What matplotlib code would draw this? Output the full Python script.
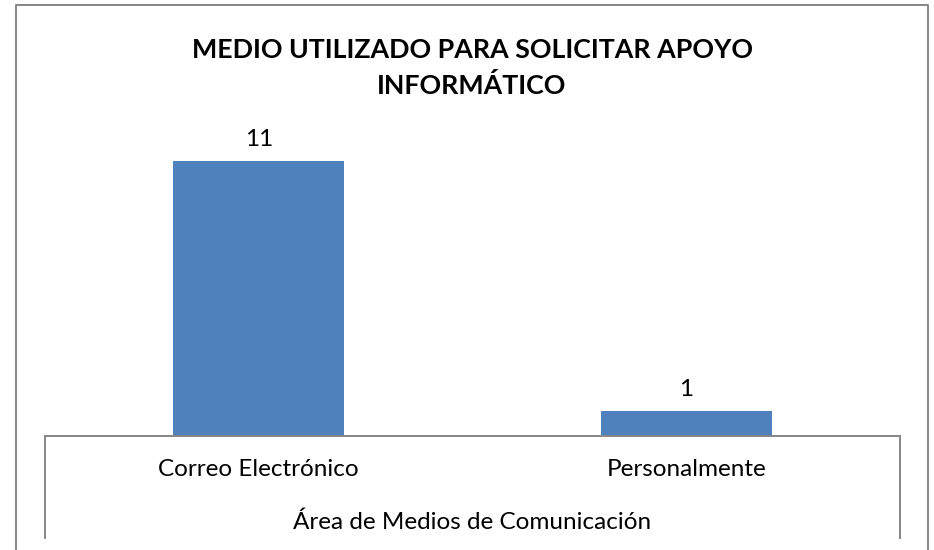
import matplotlib.pyplot as plt
from matplotlib.lines import Line2D

categorias=["Correo Electrónico","Personalmente"]
valores=[11,1]
titulo="MEDIO UTILIZADO PARA SOLICITAR APOYO\nINFORMÁTICO"
eje_x="Área de Medios de Comunicación"

W,H=934,550
plt.rcParams['font.family']=['Lato','DejaVu Sans']

fig=plt.figure(figsize=(W/100,H/100),dpi=100)
ax=fig.add_axes([45/W,1-436/H,855/W,325/H])

x=range(len(categorias))
barras=ax.bar(x,valores,width=0.4,color="#4F81BD")
for b,v in zip(barras,valores):
    ax.text(b.get_x()+b.get_width()/2,v+0.45,str(v),ha="center",va="bottom",fontsize=17.5)

ax.set_xlim(-0.5,1.5)
ax.set_ylim(0,13)
ax.set_yticks([])
ax.set_xticks([])
for s in ["top","left","right"]:
    ax.spines[s].set_visible(False)
ax.spines["bottom"].set_color("#868686")
ax.spines["bottom"].set_linewidth(1.4)

# etiquetas de categoria debajo del eje
for i,c in enumerate(categorias):
    ax.annotate(c,xy=(i,0),xycoords="data",xytext=(0,-34),textcoords="offset pixels",
                ha="center",va="center",fontsize=17.5)
fig.text(472/W,1-522/H,eje_x,ha="center",va="center",fontsize=17.5)

fig.text(472/W,1-68/H,titulo,ha="center",va="center",fontsize=19.3,fontweight="bold",linespacing=1.5)

gris="#868686"
# caja inferior
fig.add_artist(Line2D([45/W,45/W],[1-436/H,1-538/H],color=gris,lw=1.4))
fig.add_artist(Line2D([900/W,900/W],[1-436/H,1-538/H],color=gris,lw=1.4))
# marco exterior
fig.add_artist(Line2D([16/W,16/W,928/W,928/W],[0,1-5/H,1-5/H,0],color=gris,lw=1.4))

fig.savefig("out.png",dpi=100)
